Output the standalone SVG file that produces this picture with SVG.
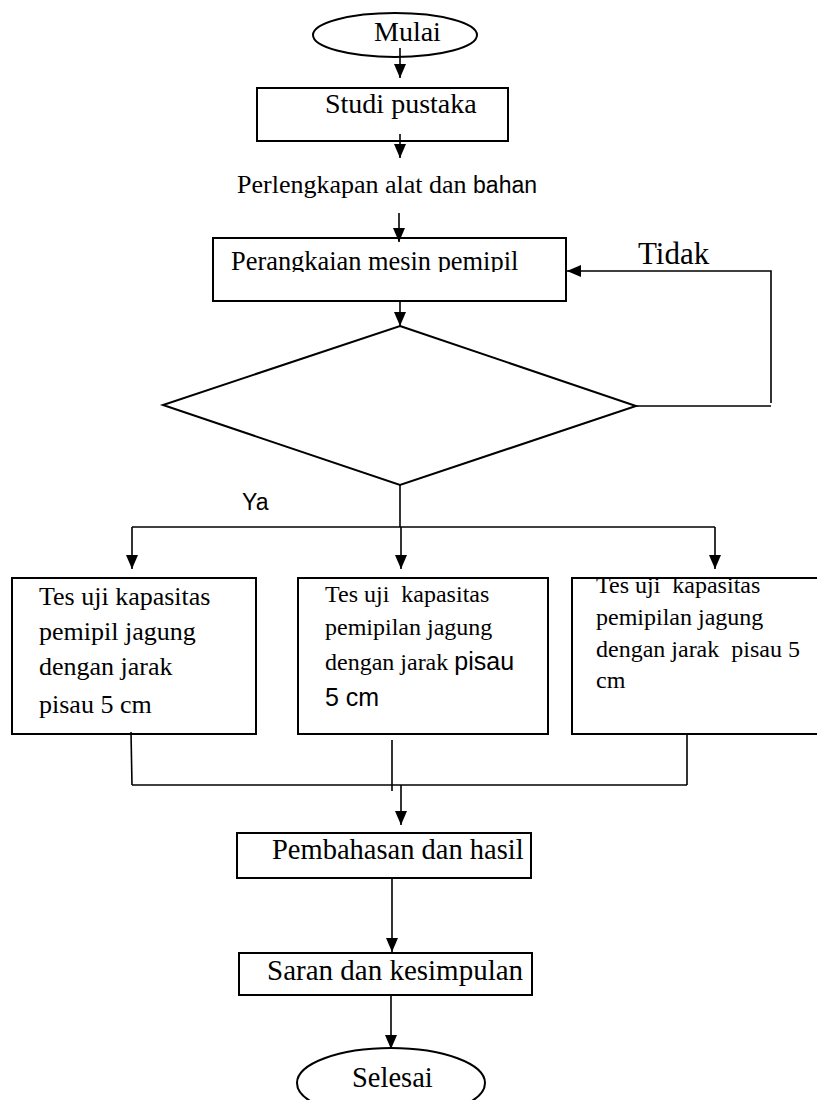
<svg xmlns="http://www.w3.org/2000/svg" width="817" height="1100" viewBox="0 0 817 1100">
<style>
.shape{fill:#fff;stroke:#000;stroke-width:2}
.ln{fill:none;stroke:#000;stroke-width:1.6}
.t{font-family:"Liberation Serif","Times New Roman",serif;fill:#000;white-space:pre}
.s{font-family:"Liberation Sans",Arial,sans-serif;fill:#000;white-space:pre}
</style>
<defs>
<marker id="ah" markerUnits="userSpaceOnUse" markerWidth="14" markerHeight="12" refX="14" refY="6" orient="auto">
<path d="M0,0 L14,6 L0,12 Z" fill="#000"/>
</marker>
<clipPath id="clipP"><rect x="214" y="239" width="351" height="33"/></clipPath>
</defs>
<rect width="817" height="1100" fill="#fff"/>

<g id="mulai">
<ellipse class="shape" cx="395" cy="35" rx="82" ry="22"/>
<text class="t" x="374" y="41" font-size="28">Mulai</text>
</g>
<g id="studi">
<rect class="shape" x="257" y="88" width="251" height="53"/>
<text class="t" x="325" y="113" font-size="28">Studi pustaka</text>
</g>
<g id="perlengkapan">
<text x="237" y="193"><tspan class="t" font-size="26">Perlengkapan alat dan </tspan><tspan class="s" font-size="23">bahan</tspan></text>
</g>
<g id="perangkaian">
<rect class="shape" x="213" y="238" width="353" height="63"/>
<text class="t" x="231" y="270" font-size="26.4" clip-path="url(#clipP)">Perangkaian mesin pemipil</text>
</g>
<g id="decision">
<polygon class="shape" points="400,326 636,406 400,485 163,405"/>
</g>
<g id="labels">
<text class="t" x="638" y="264" font-size="31">Tidak</text>
<text class="s" x="242" y="510" font-size="23">Ya</text>
</g>
<g id="box1">
<rect class="shape" x="12" y="578" width="244" height="156"/>
<text class="t" font-size="26"><tspan x="39" y="605">Tes uji kapasitas</tspan><tspan x="39" y="640">pemipil jagung</tspan><tspan x="39" y="675">dengan jarak</tspan><tspan x="39" y="713">pisau 5 cm</tspan></text>
</g>
<g id="box2">
<rect class="shape" x="298" y="578" width="250" height="156"/>
<text font-size="24"><tspan class="t" x="325" y="602">Tes uji  kapasitas</tspan><tspan class="t" x="325" y="635">pemipilan jagung</tspan><tspan class="t" x="325" y="670">dengan jarak </tspan><tspan class="s" font-size="25">pisau</tspan><tspan class="s" font-size="25" x="325" y="706">5 cm</tspan></text>
</g>
<g id="box3">
<rect class="shape" x="572" y="578" width="250" height="156"/>
<text class="t" font-size="24"><tspan x="596" y="593">Tes uji  kapasitas</tspan><tspan x="596" y="625">pemipilan jagung</tspan><tspan x="596" y="657">dengan jarak  pisau 5</tspan><tspan x="596" y="688">cm</tspan></text>
</g>
<g id="pembahasan">
<rect class="shape" x="237" y="833" width="294" height="45"/>
<text class="t" x="272" y="859" font-size="28.5">Pembahasan dan hasil</text>
</g>
<g id="saran">
<rect class="shape" x="239" y="953" width="293" height="42"/>
<text class="t" x="267" y="980" font-size="29">Saran dan kesimpulan</text>
</g>
<g id="selesai">
<ellipse class="shape" cx="391" cy="1083" rx="94" ry="35"/>
<text class="t" x="352" y="1087" font-size="28.5">Selesai</text>
</g>

<g id="connectors">
<line class="ln" x1="400" y1="48" x2="400" y2="78" marker-end="url(#ah)"/>
<line class="ln" x1="400" y1="134" x2="400" y2="158" marker-end="url(#ah)"/>
<line class="ln" x1="399" y1="213" x2="399" y2="242" marker-end="url(#ah)"/>
<line class="ln" x1="400" y1="301" x2="400" y2="326" marker-end="url(#ah)"/>
<polyline class="ln" points="636,406 771,406"/>
<polyline class="ln" points="771,403 771,271 567,271" marker-end="url(#ah)"/>
<line class="ln" x1="400" y1="485" x2="400" y2="527"/>
<line class="ln" x1="132" y1="527" x2="715" y2="527"/>
<line class="ln" x1="132" y1="527" x2="132" y2="569" marker-end="url(#ah)"/>
<line class="ln" x1="401" y1="527" x2="401" y2="569" marker-end="url(#ah)"/>
<line class="ln" x1="715" y1="527" x2="715" y2="569" marker-end="url(#ah)"/>
<line class="ln" x1="131" y1="732" x2="132" y2="785"/>
<line class="ln" x1="687" y1="733" x2="687" y2="785"/>
<line class="ln" x1="392" y1="740" x2="392" y2="791"/>
<line class="ln" x1="132" y1="785" x2="687" y2="785"/>
<line class="ln" x1="401" y1="785" x2="401" y2="825" marker-end="url(#ah)"/>
<line class="ln" x1="392" y1="878" x2="392" y2="952" marker-end="url(#ah)"/>
<line class="ln" x1="391" y1="995" x2="391" y2="1049" marker-end="url(#ah)"/>
</g>
</svg>
